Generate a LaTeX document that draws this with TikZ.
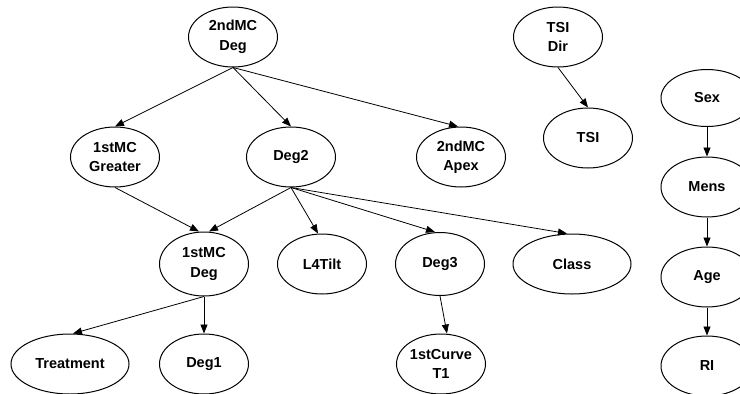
\documentclass[tikz,border=0pt]{standalone}
\usepackage{fontspec}
\setmainfont{Liberation Sans}
\usetikzlibrary{shapes.geometric, arrows.meta}

\begin{document}
\begin{tikzpicture}[x=1pt, y=-1pt,
            >={Triangle[length=9pt,width=7pt]},
            var/.style={ellipse, draw, line width=1pt, minimum width=89pt, minimum height=60pt, inner sep=0pt, align=center, font=\fontsize{14.5}{19.5}\selectfont\bfseries},
            wide/.style={var, minimum width=118pt},
            link/.style={->, line width=0.8pt}
        ]
            \useasboundingbox (0,0) rectangle (740,394);

% Top row
            \node[var] (mcdeg2) at (233,37) {2ndMC\\Deg};
            \node[var] (tsidir) at (558,37) {TSI\\Dir};

% Second row
            \node[var] (mcgreater) at (115,157) {1stMC\\Greater};
            \node[var] (deg2) at (291,157) {Deg2};
            \node[var] (mcapex) at (461,157) {2ndMC\\Apex};
            \node[var] (tsi) at (588,138) {TSI};

% Third row
            \node[var, minimum height=64pt] (mcdeg1) at (204,264) {1stMC\\Deg};
            \node[var] (lfourtilt) at (322,264) {L4Tilt};
            \node[var, minimum height=63pt] (deg3) at (440,264) {Deg3};
            \node[wide] (class) at (572,264) {Class};

% Bottom row
            \node[wide] (treatment) at (70,364) {Treatment};
            \node[var] (deg1) at (204,364) {Deg1};
            \node[var] (curvet1) at (441,364) {1stCurve\\T1};

% Right column
            \node[var, minimum width=92pt, minimum height=57pt] (sex) at (707,98) {Sex};
            \node[var, minimum width=92pt] (mens) at (707,187) {Mens};
            \node[var, minimum width=92pt] (age) at (707,277) {Age};
            \node[var, minimum width=92pt] (ri) at (707,366) {RI};

% Arrows
            \draw[link] (mcdeg2.south) -- (mcgreater.north);
            \draw[link] (mcdeg2.south) -- (deg2.north);
            \draw[link] (mcdeg2.south) -- ([xshift=-3pt]mcapex.north);
            \draw[link] (tsidir.south) -- (tsi.north);
            \draw[link] (mcgreater.south) -- ([xshift=-5pt]mcdeg1.north);
            \draw[link] (deg2.south) -- ([xshift=5pt]mcdeg1.north);
            \draw[link] (deg2.south) -- ([xshift=-4pt]lfourtilt.north);
            \draw[link] (deg2.south) -- ([xshift=-5pt]deg3.north);
            \draw[link] (deg2.south) -- ([xshift=-5pt]class.north);
            \draw[link] (mcdeg1.south) -- ([xshift=3pt]treatment.north);
            \draw[link] (mcdeg1.south) -- (deg1.north);
            \draw[link] (deg3.south) -- ([xshift=6pt]curvet1.north);
            \draw[link] (sex) -- (mens);
            \draw[link] (mens) -- (age);
            \draw[link] (age) -- (ri);

        \end{tikzpicture}
\end{document}
